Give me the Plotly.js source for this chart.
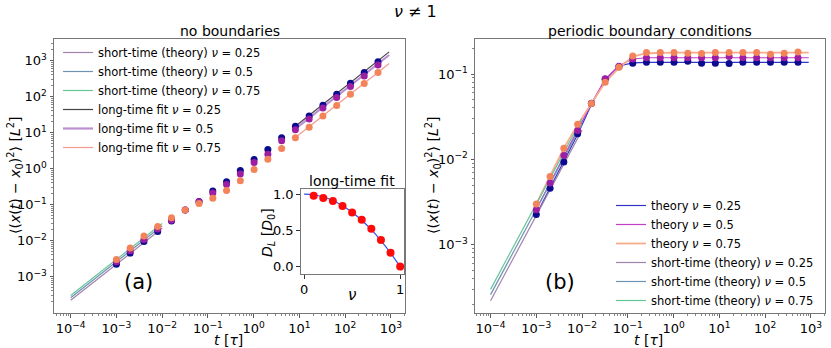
<!DOCTYPE html>
<html>
<head>
<meta charset="utf-8">
<script src="https://cdn.plot.ly/plotly-3.0.1.min.js"></script>
<style>
  html, body { margin: 0; padding: 0; background: #fff; }
  #chart { width: 831px; height: 348px; }
</style>
</head>
<body>
<div id="chart"></div>
<script>
// time points of the simulation (tau units)
var tData = [0.001, 0.002, 0.004, 0.008, 0.016, 0.032, 0.064, 0.128, 0.256, 0.512,
    1.024, 2.048, 4.096, 8.192, 16.38, 32.77, 65.54, 131.1, 262.1, 524.3];

// (a) no boundaries, MSD
var msdFree025 = [0.0022, 0.0045, 0.0094, 0.0178, 0.035, 0.071, 0.122, 0.24, 0.43, 0.88,
    1.8, 3.4, 7.2, 15, 29, 58, 117, 235, 470, 930];
var msdFree05 = [0.0026, 0.0052, 0.0108, 0.021, 0.037, 0.071, 0.12, 0.21, 0.36, 0.71,
    1.48, 2.5, 5.9, 12, 24, 48, 94, 190, 376, 760];
var msdFree075 = [0.0030, 0.0062, 0.0135, 0.0245, 0.043, 0.071, 0.108, 0.15, 0.245, 0.46,
    0.95, 1.82, 3.6, 7.2, 14.1, 28.8, 57, 117, 233, 465];

// (b) periodic boundary conditions
var msdPbc025 = [0.00226, 0.0046, 0.0093, 0.0199, 0.0454, 0.087, 0.122, 0.134, 0.137, 0.137,
    0.137, 0.141, 0.134, 0.134, 0.133, 0.137, 0.137, 0.137, 0.137, 0.137];
var msdPbc05 = [0.00257, 0.0053, 0.0111, 0.0218, 0.045, 0.088, 0.123, 0.150, 0.155, 0.155,
    0.155, 0.155, 0.155, 0.155, 0.160, 0.155, 0.155, 0.155, 0.155, 0.155];
var msdPbc075 = [0.0030, 0.0063, 0.0135, 0.0257, 0.045, 0.080, 0.120, 0.162, 0.178, 0.178,
    0.178, 0.175, 0.174, 0.178, 0.178, 0.178, 0.178, 0.170, 0.175, 0.181];

// theory curves (b)
var tTheory = [0.001, 0.002, 0.004, 0.008, 0.016, 0.032, 0.064, 0.128, 0.256, 1, 10, 100, 900];
var theory025 = [0.00225, 0.0046, 0.0093, 0.0195, 0.044, 0.085, 0.124, 0.135, 0.137, 0.137, 0.137, 0.137, 0.137];
var theory05 = [0.0026, 0.0053, 0.011, 0.0218, 0.045, 0.087, 0.125, 0.150, 0.155, 0.155, 0.155, 0.155, 0.155];
var theory075 = [0.003, 0.0063, 0.0135, 0.0255, 0.046, 0.080, 0.118, 0.160, 0.175, 0.178, 0.178, 0.178, 0.178];

// short-time theory, straight lines on log-log
var tShort = [0.0001, 0.01];
var short025 = [0.00022, 0.022];
var short05 = [0.00026, 0.026];
var short075 = [0.00030, 0.030];

// long-time fit (a)
var tFit = [9, 920];
var fit025 = [16.5, 1750];
var fit05 = [14, 1430];
var fit075 = [8.1, 830];

// inset: D_L vs nu
var nuPts = [0.1, 0.2, 0.3, 0.4, 0.5, 0.6, 0.7, 0.8, 0.9, 1.0];
var dlPts = [0.978, 0.946, 0.905, 0.837, 0.747, 0.647, 0.521, 0.367, 0.193, 0.004];
var nuCurve = [0, 0.1, 0.2, 0.3, 0.4, 0.5, 0.6, 0.7, 0.8, 0.9, 1.0];
var dlCurve = [1, 0.99, 0.96, 0.91, 0.84, 0.75, 0.64, 0.51, 0.36, 0.19, 0];

var W = 831, H = 348;
function px(x) { return x / W; }
function py(y) { return 1 - y / H; }

var cNavy = '#0b0b8f', cPurp = '#9b1ea3', cCoral = '#f3845a';
var cS1 = '#a283ad', cS2 = '#6d93b5', cS3 = '#66c796';

function line(x, y, name, color, w, xa, ya, leg) {
    return {x: x, y: y, name: name, mode: 'lines', type: 'scatter',
        line: {color: color, width: w}, xaxis: xa, yaxis: ya,
        legend: leg, showlegend: true, hoverinfo: 'skip'};
}
function dots(x, y, color, xa, ya, size) {
    return {x: x, y: y, mode: 'markers', type: 'scatter', showlegend: false,
        marker: {color: color, size: size || 7}, xaxis: xa, yaxis: ya};
}

var nu = '<i>ν</i>';
var data = [
    // left panel
    line(tShort, short025, 'short-time (theory) ' + nu + ' = 0.25', cS1, 1.2, 'x', 'y', 'legend'),
    line(tShort, short05, 'short-time (theory) ' + nu + ' = 0.5', cS2, 1.2, 'x', 'y', 'legend'),
    line(tShort, short075, 'short-time (theory) ' + nu + ' = 0.75', cS3, 1.2, 'x', 'y', 'legend'),
    line(tFit, fit025, 'long-time fit ' + nu + ' = 0.25', '#444444', 1.2, 'x', 'y', 'legend'),
    line(tFit, fit05, 'long-time fit ' + nu + ' = 0.5', '#bb8fd2', 2.2, 'x', 'y', 'legend'),
    line(tFit, fit075, 'long-time fit ' + nu + ' = 0.75', '#f69a8f', 1.2, 'x', 'y', 'legend'),
    dots(tData, msdFree025, cNavy, 'x', 'y'),
    dots(tData, msdFree05, cPurp, 'x', 'y'),
    dots(tData, msdFree075, cCoral, 'x', 'y'),
    // right panel
    line(tTheory, theory025, 'theory ' + nu + ' = 0.25', '#3434c4', 1.2, 'x2', 'y2', 'legend2'),
    line(tTheory, theory05, 'theory ' + nu + ' = 0.5', '#c23ec6', 1.2, 'x2', 'y2', 'legend2'),
    line(tTheory, theory075, 'theory ' + nu + ' = 0.75', '#f8ab8d', 1.8, 'x2', 'y2', 'legend2'),
    line(tShort, short025, 'short-time (theory) ' + nu + ' = 0.25', cS1, 1.2, 'x2', 'y2', 'legend2'),
    line(tShort, short05, 'short-time (theory) ' + nu + ' = 0.5', cS2, 1.2, 'x2', 'y2', 'legend2'),
    line(tShort, short075, 'short-time (theory) ' + nu + ' = 0.75', cS3, 1.2, 'x2', 'y2', 'legend2'),
    dots(tData, msdPbc025, cNavy, 'x2', 'y2'),
    dots(tData, msdPbc05, cPurp, 'x2', 'y2'),
    dots(tData, msdPbc075, cCoral, 'x2', 'y2'),
    // inset
    {x: nuCurve, y: dlCurve, mode: 'lines', type: 'scatter', showlegend: false,
        line: {color: '#2f4ff0', width: 1.2, shape: 'spline'}, xaxis: 'x3', yaxis: 'y3'},
    dots(nuPts, dlPts, '#ff0a0a', 'x3', 'y3', 8)
];

function powLabel(e) {
    return '10<sup>' + (e < 0 ? '−' + (-e) : e) + '</sup>';
}
function decadeTicks(lo, hi) {
    var v = [], t = [];
    for (var e = lo; e <= hi; e++) { v.push(Math.pow(10, e)); t.push(powLabel(e)); }
    return {v: v, t: t};
}
function minorTicks(lo, hi) {
    var v = [];
    for (var e = lo; e <= hi; e++)
        for (var m = 2; m < 10; m++) v.push(m * Math.pow(10, e));
    return v;
}

var font = {family: 'DejaVu Sans, sans-serif', size: 13, color: '#000'};
var xt = decadeTicks(-4, 3);
var ytL = decadeTicks(-3, 3);
var ytR = decadeTicks(-3, -1);

function logAxis(range, dom, ticks, lo, hi, anchor) {
    return {type: 'log', range: range, domain: dom, anchor: anchor,
        tickmode: 'array', tickvals: ticks.v, ticktext: ticks.t,
        ticks: 'outside', ticklen: 3.5, tickwidth: 0.8, tickcolor: '#333',
        minor: {tickmode: 'array', tickvals: minorTicks(lo, hi), ticks: 'outside',
            ticklen: 2, tickwidth: 0.6, tickcolor: '#333', showgrid: false},
        showline: true, mirror: true, linecolor: '#777', linewidth: 1,
        showgrid: false, zeroline: false, tickfont: font};
}

var domL = [px(54), px(405)], domR = [px(475), px(825)], domY = [py(313), py(39)];

function ann(text, x, y, size, angle) {
    return {text: text, x: px(x), y: py(y), xref: 'paper', yref: 'paper',
        showarrow: false, xanchor: 'center', yanchor: 'middle',
        textangle: angle || 0, font: {family: font.family, size: size, color: '#000'}};
}

var ylab = '⟨(<i>x</i>(<i>t</i>) − <i>x</i><sub>0</sub>)<sup>2</sup>⟩ [<i>L</i><sup>2</sup>]';

var layout = {
    width: W, height: H,
    margin: {l: 0, r: 0, t: 0, b: 0},
    paper_bgcolor: '#fff', plot_bgcolor: 'rgba(0,0,0,0)',
    font: font,
    xaxis: logAxis([-4.365, 3.31], domL, xt, -5, 3, 'y'),
    yaxis: logAxis([-4.01, 3.60], domY, ytL, -5, 3, 'x'),
    xaxis2: logAxis([-4.34, 3.31], domR, xt, -5, 3, 'y2'),
    yaxis2: logAxis([-3.80, -0.59], domY, ytR, -4, -1, 'x2'),
    xaxis3: {range: [-0.035, 1.04], domain: [px(300.7), px(404)], anchor: 'y3',
        tickvals: [0, 1], ticktext: ['0', '1'], ticks: 'outside', ticklen: 3.5,
        tickcolor: '#333', showline: true, mirror: true, linecolor: '#777',
        showgrid: false, zeroline: false, tickfont: font},
    yaxis3: {range: [-0.1, 1.065], domain: [py(274), py(189.3)], anchor: 'x3',
        tickvals: [0, 0.5, 1], ticktext: ['0.0', '0.5', '1.0'], ticks: 'outside',
        ticklen: 3.5, tickcolor: '#333', showline: true, mirror: true,
        linecolor: '#777', showgrid: false, zeroline: false, tickfont: font},
    legend: {x: px(58), y: py(38), xanchor: 'left', yanchor: 'top',
        bgcolor: 'rgba(0,0,0,0)', font: {family: font.family, size: 11.5},
        itemwidth: 30, tracegroupgap: 0},
    legend2: {x: px(611), y: py(191), xanchor: 'left', yanchor: 'top',
        bgcolor: 'rgba(0,0,0,0)', font: {family: font.family, size: 11.5},
        itemwidth: 30, tracegroupgap: 0},
    annotations: [
        ann('<i>ν</i> ≠ 1', 415, 12, 16),
        ann('no boundaries', 229.5, 31, 14),
        ann('periodic boundary conditions', 650, 31, 14),
        ann(ylab, 15, 176, 14, -90),
        ann(ylab, 433, 176, 14, -90),
        ann('<i>t</i> [<i>τ</i>]', 228, 340, 14),
        ann('<i>t</i> [<i>τ</i>]', 648, 340, 14),
        ann('(a)', 138, 282, 21),
        ann('(b)', 559.5, 282, 21),
        ann('long-time fit', 352, 181, 14),
        ann('<i>D</i><sub><i>L</i></sub> [<i>D</i><sub>0</sub>]', 268, 233, 14, -90),
        ann('<i>ν</i>', 352, 295, 15)
    ]
};

Plotly.newPlot('chart', data, layout, {displayModeBar: false, staticPlot: true});
</script>
</body>
</html>
